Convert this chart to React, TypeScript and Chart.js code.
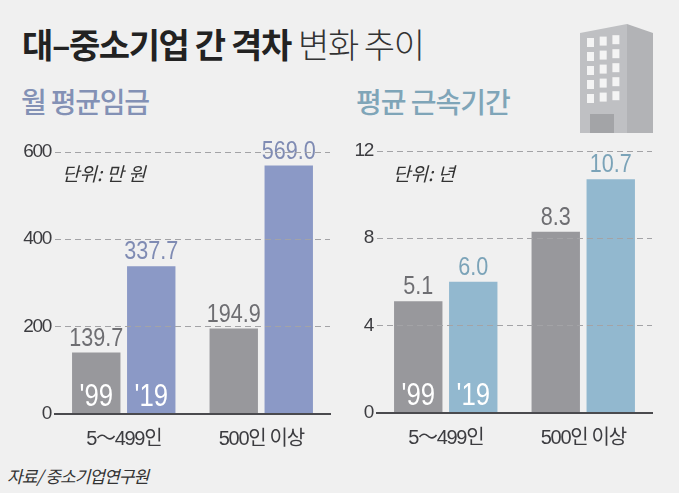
import React, { useEffect, useRef } from "react";
import { Chart, registerables } from "chart.js";

Chart.register(...registerables);

const categories = ["5～499인", "500인 이상"];
const wage1999 = [139.7, 194.9];
const wage2019 = [337.7, 569.0];
const tenure1999 = [5.1, 8.3];
const tenure2019 = [6.0, 10.7];
const wageTicks = [0, 200, 400, 600];
const tenureTicks = [0, 4, 8, 12];
const yearLabels = ["'99", "'19"];

const NUM = '"Liberation Sans", sans-serif';
const KR = '"Noto Sans CJK KR", sans-serif';
const GRAY = "#98989c";
const GRAY_TEXT = "#6e6e72";
const SQUEEZE = 0.83;

function makeChart(
  canvas: HTMLCanvasElement,
  first: number[],
  second: number[],
  ticks: number[],
  max: number,
  color: string,
  textColor: string,
  decimals: number
) {
  const squeezed = (ctx: any, s: string, x: number, y: number) => {
    ctx.save();
    ctx.translate(x, y);
    ctx.scale(SQUEEZE, 1);
    ctx.fillText(s, 0, 0);
    ctx.restore();
  };

  const labelPlugin = {
    id: "valueLabels",
    beforeDraw(chart: any) {
      chart.ctx.letterSpacing = "-1.3px";
    },
    afterDatasetsDraw(chart: any) {
      const { ctx } = chart;
      ctx.save();
      ctx.letterSpacing = "0px";
      ctx.textAlign = "center";
      ctx.textBaseline = "alphabetic";
      chart.data.datasets.forEach((ds: any, di: number) => {
        const meta = chart.getDatasetMeta(di);
        meta.data.forEach((bar: any, i: number) => {
          ctx.fillStyle = di === 0 ? GRAY_TEXT : textColor;
          ctx.font = `26px ${NUM}`;
          squeezed(ctx, ds.data[i].toFixed(decimals), bar.x, bar.y - 7);
          if (i === 0) {
            ctx.fillStyle = "#ffffff";
            ctx.font = `31px ${NUM}`;
            squeezed(ctx, yearLabels[di], bar.x, chart.scales.y.bottom - 8);
          }
        });
      });
      ctx.restore();
    },
  };

  return new Chart(canvas, {
    type: "bar",
    data: {
      labels: categories,
      datasets: [
        { data: first, backgroundColor: GRAY, categoryPercentage: 0.8, barPercentage: 0.88 },
        { data: second, backgroundColor: color, categoryPercentage: 0.8, barPercentage: 0.88 },
      ],
    },
    plugins: [labelPlugin],
    options: {
      responsive: false,
      animation: false,
      layout: { padding: { top: 22, right: 5, left: 0, bottom: 0 } },
      plugins: { legend: { display: false }, tooltip: { enabled: false } },
      scales: {
        x: {
          grid: { display: false },
          border: { display: true, color: "#4a4a4e", width: 2 },
          afterFit: (s: any) => { s.height = 46.5; },
          ticks: {
            color: "#3c3c40",
            padding: 6,
            maxRotation: 0,
            font: { family: '"Liberation Sans", "Noto Sans CJK KR", sans-serif', size: 20 },
          },
        },
        y: {
          min: 0,
          max,
          afterFit: (s: any) => { s.width = 55; },
          afterBuildTicks: (s: any) => { s.ticks = ticks.map((value) => ({ value })); },
          grid: {
            z: 1,
            drawTicks: false,
            color: (c: any) => (c.tick.value === 0 ? "transparent" : "#a3a3a6"),
          },
          border: { display: false, dash: [6, 4] },
          ticks: {
            color: "#3c3c40",
            padding: 4,
            font: { family: NUM, size: 19 },
          },
        },
      },
    },
  });
}

const text = (
  left: number,
  top: number,
  content: string,
  style: React.CSSProperties
) => (
  <div
    style={{
      position: "absolute",
      left,
      top,
      whiteSpace: "nowrap",
      fontFamily: KR,
      lineHeight: 1,
      ...style,
    }}
  >
    {content}
  </div>
);

const windowCols = [0, 1, 2];
const windowRows = [0, 1, 2, 3, 4];

function Building() {
  return (
    <svg
      width={80}
      height={114}
      viewBox="0 0 80 114"
      style={{ position: "absolute", left: 578, top: 22 }}
    >
      <polygon points="2,11 49,2 49,111 2,111" fill="#bfc0c3" />
      <polygon points="49,2 75,11 75,111 49,111" fill="#b2b3b6" />
      <rect x={12} y={92} width={24} height={19} fill="#a3a4a7" />
      {windowRows.map((r) =>
        windowCols.map((c) => (
          <rect
            key={`${r}-${c}`}
            x={9 + c * 12.7}
            y={16 + r * 14 - c * 1.4}
            width={7}
            height={9}
            fill="#f4f4f4"
          />
        ))
      )}
    </svg>
  );
}

export default function App() {
  const left = useRef<HTMLCanvasElement>(null);
  const right = useRef<HTMLCanvasElement>(null);

  useEffect(() => {
    document.body.style.margin = "0";
    document.body.style.background = "#f0f0f0";
    const a = makeChart(left.current!, wage1999, wage2019, wageTicks, 600, "#8b99c6", "#7f8bb3", 1);
    const b = makeChart(right.current!, tenure1999, tenure2019, tenureTicks, 12, "#92b8cf", "#7ba3b8", 1);
    return () => {
      a.destroy();
      b.destroy();
    };
  }, []);

  return (
    <div style={{ position: "relative", width: 679, height: 493, background: "#f0f0f0", overflow: "hidden" }}>
      {text(22, 27, "대–중소기업 간 격차", { fontSize: 34, fontWeight: 700, color: "#222", letterSpacing: -1.4 })}
      {text(298, 27, "변화 추이", { fontSize: 34, fontWeight: 300, color: "#333", letterSpacing: -1.4 })}
      {text(21, 87, "월 평균임금", { fontSize: 28, fontWeight: 500, color: "#8391b5", letterSpacing: -1.2 })}
      {text(356, 87, "평균 근속기간", { fontSize: 28, fontWeight: 500, color: "#7fa5b8", letterSpacing: -1 })}
      <Building />
      <canvas ref={left} width={335} height={330} style={{ position: "absolute", left: 0, top: 130, width: 335, height: 330 }} />
      <canvas ref={right} width={335} height={330} style={{ position: "absolute", left: 322, top: 129, width: 335, height: 330 }} />
      {text(62, 163, "단위: 만 원", { fontSize: 19, fontStyle: "italic", color: "#333" })}
      {text(393, 163, "단위: 년", { fontSize: 19, fontStyle: "italic", color: "#333" })}
      {text(7, 467, "자료/ 중소기업연구원", { fontSize: 17, fontStyle: "italic", color: "#333", letterSpacing: -0.9 })}
    </div>
  );
}
